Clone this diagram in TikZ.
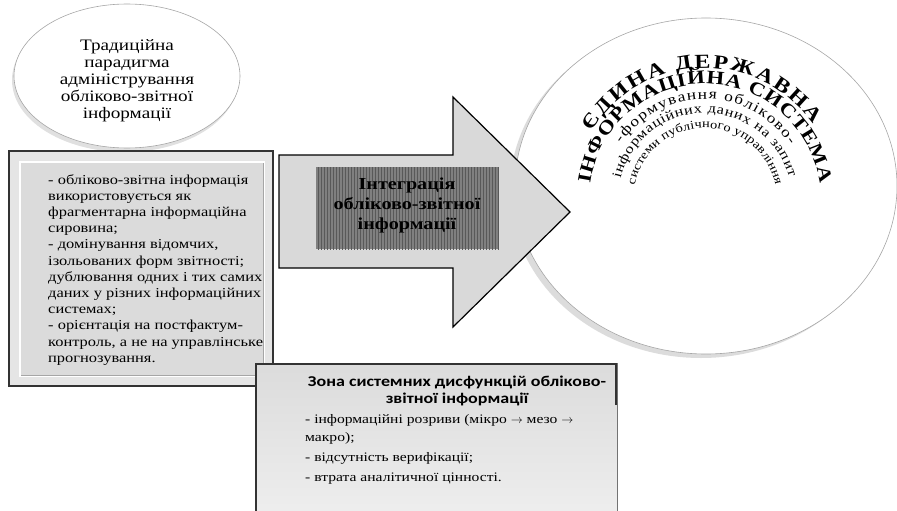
\documentclass[tikz,border=0pt]{standalone}
\usepackage{fontspec}
\setmainfont{Liberation Serif}[FakeStretch=1.2]
\newfontfamily\zonafont{Carlito}[FakeStretch=1.2]
\usetikzlibrary{shapes.geometric,decorations.text,patterns}

% white ball with a grey rim
\pgfdeclareradialshading{rimball}{\pgfpoint{0bp}{0bp}}{color(0bp)=(white); color(30bp)=(white); color(42bp)=(black!7); color(48bp)=(black!18); color(50bp)=(black!38)}

\newcommand\arcbig{\fontsize{20}{20}\selectfont\bfseries}
\newcommand\arcwide{\fontsize{19}{19}\selectfont\bfseries}
\newcommand\arcmid{\fontsize{14.5}{14.5}\selectfont}
\newcommand\arcsub{\fontsize{13.5}{13.5}\selectfont}
\newcommand\arclow{\fontsize{12}{12}\selectfont}

\tikzset{
  ball/.style={ellipse, shading=rimball, draw=black!35, line width=.6pt, inner sep=0pt},
  framebox/.style={draw=black!80, line width=1.6pt, fill=black!10},
  panel/.style={draw=white, line width=1.2pt, fill=black!14},
  bigarrow/.style={draw=black, line width=1.2pt, fill=black!15},
  listtext/.style={align=left, anchor=north west, inner sep=0pt, font=\fontsize{13.7}{16.2}\selectfont},
  arcline/.style={decorate, decoration={text along path, text align=fit to path, #1}},
}

\begin{document}
\begin{tikzpicture}[x=1pt,y=1pt]
    \useasboundingbox (0,0) rectangle (897,-511);
    \clip (0,0) rectangle (897,-511);

    % big ball on the right
    \fill[black!30, opacity=.45] (701,-190) ellipse [x radius=191, y radius=168];
    \node[ball, minimum width=382pt, minimum height=336pt] (edis) at (706,-186) {};

    % arched title
    \path[arcline={text={|\arcbig|ЄДИНА ДЕРЖАВНА}}] (705,-200) ++(149:132) arc[start angle=149, end angle=35, radius=132];
    \path[arcline={text={|\arcwide|ІНФОРМАЦІЙНА СИСТЕМА}}] (705,-200) ++(172:116) arc[start angle=172, end angle=8, radius=116];
    \path[arcline={text={|\arcmid|-формування обліково-}}] (705,-200) ++(146:101) arc[start angle=146, end angle=33, radius=101];
    \path[arcline={text={|\arcsub|інформаційних даних на запит}}] (705,-200) ++(166:87) arc[start angle=166, end angle=15, radius=87];
    \path[arcline={text={|\arclow|системи публічного управління}}] (705,-200) ++(168:72) arc[start angle=168, end angle=12, radius=72];

    % traditional paradigm
    \fill[black!30, opacity=.4] (125,-80) ellipse [x radius=113, y radius=72];
    \node[ball, minimum width=226pt, minimum height=144pt] (trad) at (127,-76) {};
    \node[align=center, font=\fontsize{16}{17}\selectfont] (tradtext) at (127,-81)
        {Традиційна\\парадигма\\адміністрування\\обліково-звітної\\інформації};

    % list of the old way
    \draw[framebox] (9,-151) rectangle (273,-386);
    \draw[panel] (20,-162) rectangle (264,-376);
    \draw[black!35] (21,-375) -- (263,-375) -- (263,-163);
    \node[listtext] (oldlist) at (48,-174) {- обліково-звітна інформація\\використовується як\\фрагментарна інформаційна\\сировина;\\- домінування відомчих,\\ізольованих форм звітності;\\дублювання одних і тих самих\\даних у різних інформаційних\\системах;\\- орієнтація на постфактум-\\контроль, а не на управлінське\\прогнозування.};

    % big arrow
    \draw[bigarrow] (279,-155) -- (453,-155) -- (453,-97) -- (570,-212) -- (453,-327) -- (453,-268) -- (279,-268) -- cycle;
    \fill[black!50] (316,-167) rectangle (499,-249);
    \fill[pattern=vertical lines, pattern color=black!65] (316,-167) rectangle (499,-249);
    \node[align=center, font=\fontsize{16.8}{20}\selectfont\bfseries] (integ) at (407,-205) {Інтеграція\\обліково-звітної\\інформації};

    % zone of dysfunctions
    \shade[top color=black!14, bottom color=black!6, draw=black!55, line width=.8pt] (255,-363) rectangle (617,-530);
    \draw[black!80, line width=1.4pt] (256,-530) -- (256,-364) -- (616,-364) -- (616,-405);
    \node[align=center, font=\zonafont\fontsize{15}{17.5}\selectfont\bfseries] (zonatitle) at (457,-391) {Зона системних дисфункцій обліково-\\звітної інформації};
    \node[listtext, font=\fontsize{13}{18}\selectfont] (zonalist) at (305,-414) {- інформаційні розриви (мікро $\rightarrow$ мезо $\rightarrow$\\макро);\\[2pt]- відсутність верифікації;\\[2pt]- втрата аналітичної цінності.};
\end{tikzpicture}
\end{document}
